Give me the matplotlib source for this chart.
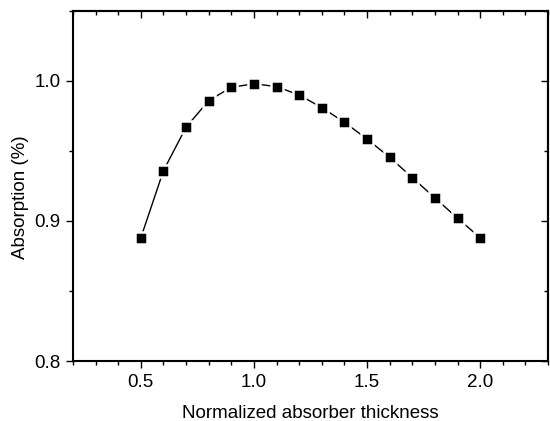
import matplotlib
matplotlib.use("agg")
import matplotlib.pyplot as plt
from matplotlib.ticker import MultipleLocator
import numpy as np

plt.rcParams['font.family'] = ['Liberation Sans', 'DejaVu Sans']

thickness = [0.5, 0.6, 0.7, 0.8, 0.9, 1.0, 1.1, 1.2, 1.3, 1.4, 1.5, 1.6, 1.7, 1.8, 1.9, 2.0]
absorption = [0.888, 0.936, 0.967, 0.986, 0.9955, 0.998, 0.996, 0.990, 0.981,
              0.9705, 0.9585, 0.9455, 0.931, 0.9165, 0.902, 0.888]

fig = plt.figure(figsize=(5.5, 4.21), dpi=100)
ax = fig.add_axes([0.1327, 0.1425, 0.8637, 0.8314])

ax.plot(thickness, absorption, color="black", lw=1.0, marker="s",
        markersize=9, markerfacecolor="black", markeredgecolor="white", markeredgewidth=1.8)

ax.set_xlim(0.2, 2.3)
ax.set_ylim(0.8, 1.05)
ax.xaxis.set_major_locator(MultipleLocator(0.5))
ax.xaxis.set_minor_locator(MultipleLocator(0.1))
ax.yaxis.set_major_locator(MultipleLocator(0.1))
ax.yaxis.set_minor_locator(MultipleLocator(0.05))
ax.tick_params(which="major", direction="out", length=5, width=1, labelsize=13.5, colors="black", pad=4)
ax.tick_params(which="minor", direction="out", length=3, width=1)
for s in ax.spines.values():
    s.set_linewidth(1.5)

# mirrored ticks pointing inwards on top and right
top = ax.secondary_xaxis("top")
top.xaxis.set_major_locator(MultipleLocator(0.5))
top.xaxis.set_minor_locator(MultipleLocator(0.1))
top.tick_params(which="major", direction="in", length=5, width=1, labeltop=False)
top.tick_params(which="minor", direction="in", length=3, width=1)
top.spines["top"].set_linewidth(1.5)
right = ax.secondary_yaxis("right")
right.yaxis.set_major_locator(MultipleLocator(0.1))
right.yaxis.set_minor_locator(MultipleLocator(0.05))
right.tick_params(which="major", direction="in", length=5, width=1, labelright=False)
right.tick_params(which="minor", direction="in", length=3, width=1)
right.spines["right"].set_linewidth(1.5)

ax.set_xlabel("Normalized absorber thickness", fontsize=13.5, labelpad=10.5)
ax.set_ylabel("Absorption (%)", fontsize=13.5, labelpad=4)
ax.yaxis.label.set_y(0.469)

fig.savefig("out.png", dpi=100)
